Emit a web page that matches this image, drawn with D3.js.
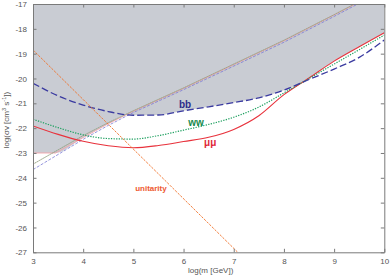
<!DOCTYPE html>
<html><head><meta charset="utf-8">
<script src="https://cdn.jsdelivr.net/npm/d3@7"></script>
<style>
html,body{margin:0;padding:0;background:#fff;}
svg{display:block;}
text{font-family:"Liberation Sans",Arial,sans-serif;}
</style></head>
<body>
<svg id="c" width="391" height="276"></svg>
<script>
// ---- data ----
const xTicks = [3,4,5,6,7,8,9,10];
const yTicks = [-17,-18,-19,-20,-21,-22,-23,-24,-25,-26,-27];
const massGrid = [3,3.5,4,4.5,5,5.5,6,6.5,7,7.5,8,8.5,9,9.5,10];
const bbValues = [-20.19,-20.70,-21.07,-21.33,-21.48,-21.47,-21.30,-21.14,-20.97,-20.78,-20.47,-20.04,-19.62,-19.15,-18.45];
const wwValues = [-21.64,-21.98,-22.27,-22.42,-22.44,-22.30,-22.08,-21.85,-21.56,-21.15,-20.58,-20.00,-19.42,-18.84,-18.25];
const mumuValues = [-21.91,-22.25,-22.53,-22.71,-22.79,-22.70,-22.54,-22.37,-22.05,-21.50,-20.65,-19.98,-19.30,-18.72,-18.16];
const unitarityX = [3,7.08];
const unitarityY = [-18.85,-27.0];
const diagX = [3,4,4.5,5,6,7,8,9,9.5];
const diagGreenY = [-23.45,-22.30,-21.78,-21.30,-20.38,-19.42,-18.46,-17.43,-16.90];
const diagBlueY = [-23.67,-22.45,-21.89,-21.37,-20.45,-19.50,-18.54,-17.50,-16.97];
const diagPinkX = [3,3.45,4,4.5,5,6,7,8,9,9.5];
const diagPinkY = [-23.0,-23.0,-22.38,-21.82,-21.32,-20.40,-19.44,-18.48,-17.44,-16.92];
const shadeX = [3,3.45,4,4.5,4.87,5,5.5,6,6.5,7,7.5,8,8.32,8.5,9,9.5,10];
const shadeY = [-23,-23,-22.38,-21.82,-21.47,-21.48,-21.47,-21.30,-21.14,-20.97,-20.78,-20.47,-20.20,-19.98,-19.30,-18.72,-18.16];
const labels = [
  {text:"bb", x:6.03, y:-21.17, color:"#2c2c8c", size:10},
  {text:"ww", x:6.25, y:-21.9, color:"#178a4c", size:10},
  {text:"\u03bc\u03bc", x:6.53, y:-22.7, color:"#e0283a", size:10},
  {text:"unitarity", x:5.35, y:-24.53, color:"#ee5a32", size:8}
];

// ---- chart ----
const svg = d3.select("#c");
const x = d3.scaleLinear().domain([3,10]).range([33,384.3]);
const y = d3.scaleLinear().domain([-27,-17]).range([252.3,4]);

const defs = svg.append("defs");
defs.append("clipPath").attr("id","clip").append("rect")
  .attr("x",x(3)).attr("y",y(-17)).attr("width",x(10)-x(3)).attr("height",y(-27)-y(-17));

const g = svg.append("g").attr("clip-path","url(#clip)");

// shaded excluded region
const shadePts = shadeX.map((v,i)=>[v,shadeY[i]]);
g.append("path").datum(shadePts)
  .attr("d", d3.area().x(d=>x(d[0])).y0(y(-17)).y1(d=>y(d[1])).curve(d3.curveMonotoneX))
  .attr("fill","#c9ccd3");

function drawLine(xs, ys, color, width, dash, curve){
  g.append("path").datum(xs.map((v,i)=>[v,ys[i]]))
    .attr("d", d3.line().x(d=>x(d[0])).y(d=>y(d[1])).curve(curve||d3.curveMonotoneX))
    .attr("fill","none").attr("stroke",color).attr("stroke-width",width)
    .attr("stroke-dasharray",dash||null);
}

// thin diagonal lines
drawLine(diagPinkX, diagPinkY, "#f2a2a8", 0.9, null, d3.curveLinear);
drawLine(diagX, diagGreenY, "#7ccf98", 0.8, "1.2,1.2", d3.curveLinear);
drawLine(diagX, diagBlueY, "#7a7ad4", 0.8, "3,1.5", d3.curveLinear);
drawLine(diagX, diagGreenY, "#a08878", 0.5, null, d3.curveLinear);

// channel curves
drawLine(massGrid, mumuValues, "#e8323c", 1.1, null);
drawLine(massGrid, wwValues, "#1fa060", 1.2, "1.3,1.3");
drawLine(massGrid, bbValues, "#3a3aa0", 1.3, "7,3");
drawLine(unitarityX, unitarityY, "#f07028", 0.9, "2.5,1.2", d3.curveLinear);

// labels
labels.forEach(l=>{
  svg.append("text").attr("x",x(l.x)).attr("y",y(l.y))
    .attr("text-anchor","middle").attr("font-size",l.size).attr("font-weight","bold")
    .attr("fill",l.color).text(l.text);
});

// axes
const axisColor = "#7a7a7a";
function styleAxis(sel){
  sel.selectAll("path.domain").attr("stroke",axisColor).attr("stroke-width",1);
  sel.selectAll(".tick line").attr("stroke",axisColor);
  sel.selectAll(".tick text").attr("fill","#555").attr("font-size",8)
    .attr("font-family","'Liberation Sans',Arial,sans-serif");
}
const fmt = d=>String(d);
svg.append("g").attr("transform",`translate(0,${y(-27)})`)
  .call(d3.axisBottom(x).tickValues(xTicks).tickFormat(fmt).tickSizeInner(-3.5).tickSizeOuter(0).tickPadding(6))
  .call(styleAxis);
svg.append("g").attr("transform",`translate(0,${y(-17)})`)
  .call(d3.axisTop(x).tickValues(xTicks).tickFormat("").tickSizeInner(-3.5).tickSizeOuter(0))
  .call(styleAxis);
svg.append("g").attr("transform",`translate(${x(3)},0)`)
  .call(d3.axisLeft(y).tickValues(yTicks).tickFormat(fmt).tickSizeInner(-3.5).tickSizeOuter(0).tickPadding(6))
  .call(styleAxis);
svg.append("g").attr("transform",`translate(${x(10)},0)`)
  .call(d3.axisRight(y).tickValues(yTicks).tickFormat("").tickSizeInner(-3.5).tickSizeOuter(0))
  .call(styleAxis);

// axis titles
svg.append("text").attr("x",(x(3)+x(10))/2+2).attr("y",273)
  .attr("text-anchor","middle").attr("font-size",8).attr("fill","#555").text("log(m [GeV])");
const yl = svg.append("text").attr("transform",`translate(9,${(y(-17)+y(-27))/2 - 8}) rotate(-90)`)
  .attr("text-anchor","middle").attr("font-size",8).attr("fill","#555");
yl.append("tspan").text("log(\u03c3v [cm");
yl.append("tspan").attr("font-size",5.5).attr("dy",-3).text("3");
yl.append("tspan").attr("dy",3).text(" s");
yl.append("tspan").attr("font-size",5.5).attr("dy",-3).text("-1");
yl.append("tspan").attr("dy",3).text("])");
</script>
</body></html>
